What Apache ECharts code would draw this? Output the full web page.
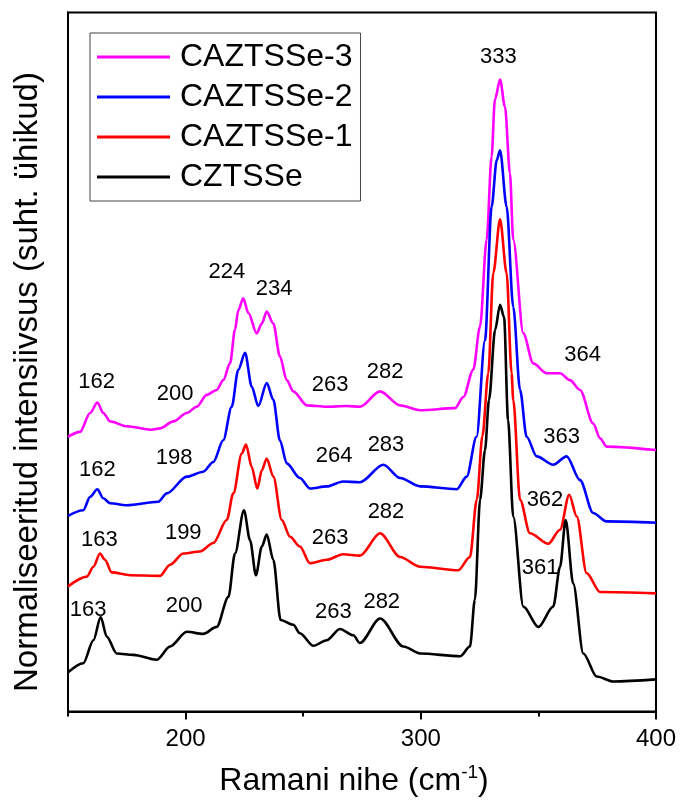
<!DOCTYPE html>
<html><head><meta charset="utf-8">
<script src="https://cdn.jsdelivr.net/npm/echarts@6/dist/echarts.min.js"></script>
<style>html,body{margin:0;padding:0;background:#fff}#c{width:680px;height:804px}</style>
</head><body><div id="c"></div>
<script>
const FONT = '"Liberation Sans", Arial, Helvetica, sans-serif';

const seriesNames = ['CAZTSSe-3', 'CAZTSSe-2', 'CAZTSSe-1', 'CZTSSe'];
const seriesColors = ['#ff00ff', '#0000ff', '#ff0000', '#000000'];

// Raman shift (cm-1) and normalised intensity (offset, arbitrary units) per sample
const waveCAZTSSe3 = [150.0,155.1,159.4,162.5,165.0,167.9,175.0,185.6,189.1,194.8,200.5,204.7,209.0,213.2,216.0,218.9,221.0,222.4,224.5,226.7,230.2,232.4,234.5,237.3,240.1,243.0,245.8,251.5,260.0,268.5,274.1,282.7,291.2,299.7,314.5,318.1,322.3,325.2,328.0,330.1,331.5,333.7,335.8,337.9,339.3,343.6,347.8,353.5,359.2,363.4,367.7,373.3,376.2,379.0,400.0];
const intCAZTSSe3  = [39.3,40.0,42.7,44.2,42.7,41.5,40.8,40.3,40.5,41.5,42.7,43.6,45.3,46.0,47.4,49.8,54.6,57.4,59.1,57.0,54.1,55.5,57.2,55.5,50.8,47.4,45.8,43.8,43.6,43.7,43.6,45.8,43.8,43.1,43.4,45.0,48.9,55.1,67.5,79.4,87.5,90.4,86.5,77.0,67.5,54.1,49.8,48.4,48.4,47.4,46.0,41.2,39.1,37.9,37.4];

const waveCAZTSSe2 = [150.0,156.5,159.4,162.5,165.0,167.9,175.0,188.4,192.0,200.5,207.5,211.8,216.0,219.6,222.4,225.3,228.1,230.9,234.5,237.3,240.1,243.0,248.6,252.9,260.0,267.0,274.1,284.1,291.2,299.7,315.3,319.5,323.7,327.3,330.1,332.3,333.7,336.5,339.3,342.2,345.0,349.3,356.3,362.0,367.7,373.3,379.0,400.0];
const intCAZTSSe2  = [28.0,28.8,30.7,31.8,30.5,29.8,29.5,30.0,31.2,33.6,34.3,35.7,38.8,43.6,48.9,51.3,46.5,43.7,47.0,44.6,38.8,35.5,33.4,31.9,32.2,32.9,32.8,35.3,33.4,32.2,31.8,33.6,39.3,53.1,72.2,78.9,80.3,72.2,57.9,46.0,39.3,36.5,35.3,36.5,33.1,28.4,27.2,27.0];

const waveCAZTSSe1 = [150.0,158.0,160.8,163.6,165.7,168.6,176.4,189.1,193.4,199.0,206.1,211.8,217.5,220.3,223.9,225.7,228.1,230.5,232.4,234.5,237.3,240.9,244.4,248.6,252.9,260.0,267.0,274.1,282.7,291.2,299.7,315.9,320.9,323.8,326.2,328.7,330.8,333.7,336.5,338.6,339.3,342.2,346.4,354.2,359.2,363.1,366.3,370.5,376.2,400.0];
const intCAZTSSe1  = [17.9,19.3,20.7,22.6,21.7,19.9,19.5,19.4,21.0,22.6,22.9,24.1,27.4,31.2,36.9,38.2,35.0,31.9,34.5,36.2,33.6,27.4,25.0,23.6,21.2,21.7,22.5,22.3,25.5,22.1,20.7,20.2,22.1,30.3,39.4,48.4,62.7,70.4,62.7,48.4,44.6,30.3,25.5,24.0,26.0,31.0,27.9,19.8,17.1,16.9];

const waveCZTSSe = [150.0,156.5,160.8,163.9,166.5,170.7,177.8,187.7,193.4,200.5,207.5,213.2,218.2,221.0,224.8,227.4,229.9,232.4,234.5,237.3,240.4,245.8,248.6,254.3,260.0,265.6,271.3,274.1,282.7,292.6,299.7,316.7,320.9,323.0,325.2,327.3,329.0,331.6,333.7,335.4,337.1,339.3,343.6,350.0,356.3,359.2,361.6,364.8,369.1,374.8,381.8,400.0];
const intCZTSSe  = [5.6,6.9,10.2,13.5,10.7,8.3,8.1,7.4,9.3,11.4,11.1,12.1,16.4,22.6,28.8,24.5,19.5,23.6,25.3,21.7,13.1,12.4,11.2,9.4,10.2,11.8,10.9,9.8,13.3,9.3,8.3,7.9,9.3,16.0,30.3,37.4,44.6,54.6,58.2,56.4,41.7,27.9,15.0,12.1,15.0,20.7,27.4,18.3,8.3,5.0,4.3,4.6];

// Peak annotations: text, position (shift, intensity)
const peakText = ['162','200','224','234','263','282','333','364',
                  '162','198','264','283','363',
                  '163','199','263','282','362',
                  '163','200','263','282','361'];
const peakWave = [162.2,195.5,217.5,237.6,261.4,284.8,333.0,368.8,
                  162.5,195.1,263.1,285.2,359.9,
                  163.3,199.0,261.4,285.2,352.8,
                  158.6,199.4,262.8,283.4,350.7];
const peakInt  = [47.2,45.4,62.9,60.4,46.7,48.6,93.7,51.0,
                  34.6,36.3,36.5,38.1,39.3,
                  24.6,25.5,24.8,28.6,30.3,
                  14.5,15.1,14.3,15.7,20.5];

const majorTicks = [200, 300, 400];
const minorTicks = [150, 250, 350];

const waves = [waveCAZTSSe3, waveCAZTSSe2, waveCAZTSSe1, waveCZTSSe];
const ints = [intCAZTSSe3, intCAZTSSe2, intCAZTSSe1, intCZTSSe];
waves.forEach((w, i) => { if (w.length !== ints[i].length) throw new Error('length mismatch ' + i); });

const lineSeries = seriesNames.map((name, i) => ({
  name: name,
  type: 'line',
  xAxisIndex: 0,
  yAxisIndex: 0,
  data: waves[i].map((w, k) => [w, ints[i][k]]),
  symbol: 'none',
  showSymbol: false,
  smooth: 0.3,
  smoothMonotone: 'x',
  lineStyle: { color: seriesColors[i], width: 2.6 },
  itemStyle: { color: seriesColors[i] },
  animation: false,
  z: 3
}));

const labelSeries = {
  name: 'peaks',
  type: 'scatter',
  xAxisIndex: 0,
  yAxisIndex: 0,
  symbolSize: 0,
  itemStyle: { color: '#000', opacity: 1 },
  data: peakWave.map((w, k) => [w, peakInt[k]]),
  label: {
    show: true,
    position: 'inside',
    formatter: p => peakText[p.dataIndex],
    fontSize: 22,
    fontFamily: FONT,
    color: '#000',
    opacity: 1,
    textBorderWidth: 0
  },
  emphasis: { disabled: true },
  silent: true,
  animation: false,
  z: 5
};

const chart = echarts.init(document.getElementById('c'), null, { renderer: 'canvas' });
chart.setOption({
  backgroundColor: '#fff',
  animation: false,
  grid: {
    left: 68, right: 24, top: 12.5, bottom: 92.5,
    show: true, borderColor: '#000', borderWidth: 2, backgroundColor: 'transparent'
  },
  legend: {
    data: seriesNames.map(n => ({ name: n, icon: 'rect' })),
    orient: 'vertical',
    left: 90,
    top: 33,
    padding: [7, 8, 7, 7],
    itemWidth: 73,
    itemHeight: 3,
    itemGap: 6,
    borderColor: '#444',
    borderWidth: 1,
    textStyle: { fontSize: 32, lineHeight: 34, color: '#000', fontFamily: FONT, padding: [0, 0, 0, 5] }
  },
  xAxis: [
    {
      type: 'value', min: 150, max: 400, position: 'bottom',
      axisLine: { show: true, lineStyle: { color: '#000', width: 2 } },
      axisTick: { show: true, customValues: majorTicks, length: 8, lineStyle: { color: '#000', width: 2 } },
      axisLabel: { show: true, customValues: majorTicks, fontSize: 24, margin: 16, color: '#000', fontFamily: FONT },
      splitLine: { show: false },
      name: '{a|Ramani nihe (cm}{s|-1}{a|)}',
      nameLocation: 'middle',
      nameGap: 52,
      nameTextStyle: {
        fontSize: 32, color: '#000', fontFamily: FONT, padding: [0, 16, 0, 0],
        rich: {
          a: { fontSize: 32, fontFamily: FONT, color: '#000', lineHeight: 36 },
          s: { fontSize: 19, fontFamily: FONT, color: '#000', verticalAlign: 'top', lineHeight: 20 }
        }
      }
    },
    {
      type: 'value', min: 150, max: 400, position: 'bottom', gridIndex: 0,
      axisLine: { show: false },
      axisTick: { show: true, customValues: minorTicks, length: 5, lineStyle: { color: '#000', width: 2 } },
      axisLabel: { show: false },
      splitLine: { show: false }
    }
  ],
  yAxis: {
    type: 'value', min: 0, max: 100,
    axisLine: { show: true, lineStyle: { color: '#000', width: 2 } },
    axisTick: { show: false },
    axisLabel: { show: false },
    splitLine: { show: false },
    name: 'Normaliseeritud intensiivsus (suht. ühikud)',
    nameLocation: 'middle',
    nameRotate: 90,
    nameGap: 24,
    nameTextStyle: { fontSize: 33, color: '#000', fontFamily: FONT, padding: [0, 40, 0, 0] }
  },
  series: lineSeries.concat([labelSeries])
});
</script>
</body></html>
